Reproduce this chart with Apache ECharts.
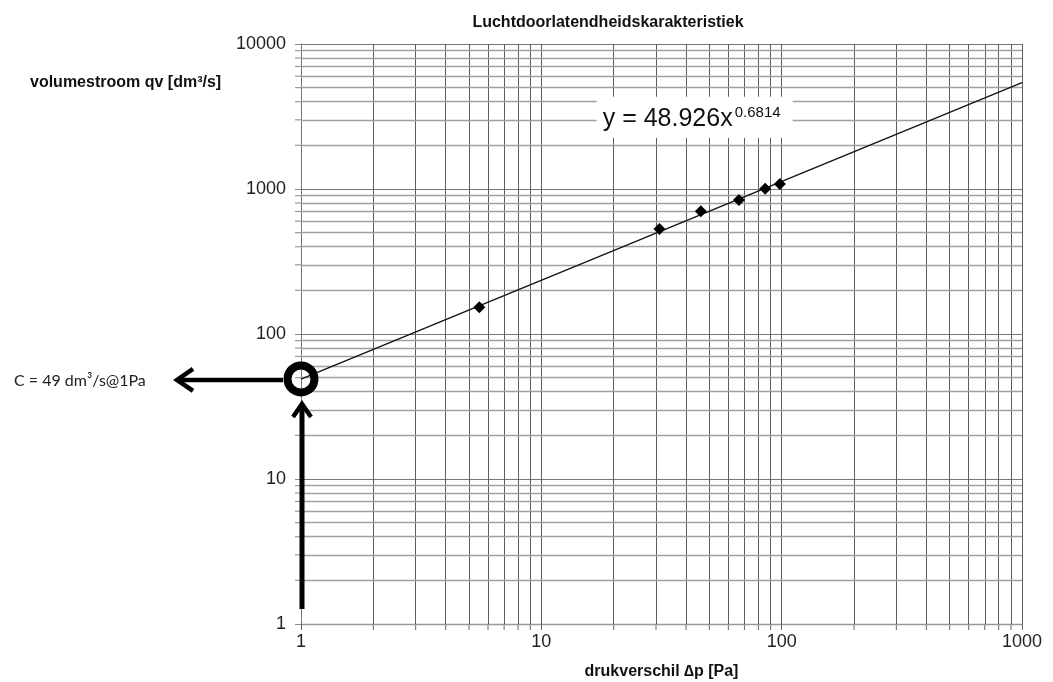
<!DOCTYPE html>
<html>
<head>
<meta charset="utf-8">
<script src="https://cdn.jsdelivr.net/npm/echarts@6/dist/echarts.min.js"></script>
<style>
html,body{margin:0;padding:0;background:#fff;}
#chart{width:1053px;height:682px;}
</style>
</head>
<body>
<div id="chart"></div>
<script>
// Data
const pressure = [5.52, 31.0, 46.1, 66.4, 85.4, 98.3];
const flow = [153, 530, 701, 840, 1005, 1083];
// Power-law trend line endpoints (straight line on log-log axes)
const trendX = [1, 1000];
const trendY = [48.9, 5418];
const xTicks = [1, 10, 100, 1000];
const yTicks = [1, 10, 100, 1000, 10000];
const cPoint = [1, 49];

const FONT = '"Liberation Sans", Arial, sans-serif';

// Minor grid values (2..9 within each decade)
function minors(ticks) {
  const out = [];
  for (let i = 0; i < ticks.length - 1; i++) {
    for (let k = 2; k <= 9; k++) out.push(ticks[i] * k);
  }
  return out;
}
const xMinor = minors(xTicks);
const yMinor = minors(yTicks);

const chart = echarts.init(document.getElementById('chart'));

const gridLines = [];
xMinor.forEach(v => gridLines.push({xAxis: v, lineStyle: {color: '#5e5e5e', width: 1, type: 'solid'}}));
yMinor.forEach(v => gridLines.push({yAxis: v, lineStyle: {color: '#a0a0a0', width: 1.3, type: 'solid'}}));

chart.setOption({
  animation: false,
  backgroundColor: '#fff',
  title: {
    text: 'Luchtdoorlatendheidskarakteristiek',
    left: 603, top: 10, textAlign: 'center',
    textStyle: {fontFamily: FONT, fontSize: 16, fontWeight: 'bold', color: '#111'}
  },
  grid: {left: 301, right: 31, top: 44, bottom: 58, containLabel: false, outerBoundsMode: 'none'},
  xAxis: {
    type: 'log', logBase: 10, min: 1, max: 1000,
    name: 'drukverschil \u2206p [Pa]', nameLocation: 'middle', nameGap: 40,
    nameTextStyle: {fontFamily: FONT, fontSize: 16, fontWeight: 'bold', color: '#111'},
    axisLine: {show: true, lineStyle: {color: '#999', width: 1.3}},
    axisTick: {show: true, inside: false, length: 6, lineStyle: {color: '#666'}},
    axisLabel: {fontFamily: FONT, fontSize: 18, color: '#222', margin: 9,
      formatter: v => String(Math.round(v))},
    splitLine: {show: true, lineStyle: {color: '#5e5e5e', width: 1}},
    minorTick: {show: false}, minorSplitLine: {show: false}
  },
  yAxis: {
    type: 'log', logBase: 10, min: 1, max: 10000,
    axisLine: {show: true, lineStyle: {color: '#777', width: 1}},
    axisTick: {show: true, inside: false, length: 6, lineStyle: {color: '#888'}},
    axisLabel: {fontFamily: FONT, fontSize: 18, color: '#222', margin: 15,
      formatter: v => String(Math.round(v))},
    splitLine: {show: true, lineStyle: {color: '#777', width: 1.2}},
    minorTick: {show: false}, minorSplitLine: {show: false}
  },
  series: [
    {
      type: 'line', name: 'grid', data: [],
      markLine: {silent: true, symbol: 'none', label: {show: false}, animation: false, data: gridLines}
    },
    {
      type: 'line', name: 'trend', showSymbol: false, symbol: 'none',
      data: trendX.map((x, i) => [x, trendY[i]]),
      lineStyle: {color: '#111', width: 1.3}, z: 5
    },
    {
      type: 'scatter', name: 'meting', symbol: 'diamond', symbolSize: 12,
      data: pressure.map((x, i) => [x, flow[i]]),
      itemStyle: {color: '#000', opacity: 1}, z: 6
    },
    {
      type: 'scatter', name: 'C', symbol: 'circle', symbolSize: 27, clip: false,
      data: [cPoint],
      itemStyle: {color: 'rgba(0,0,0,0)', borderColor: '#000', borderWidth: 8, opacity: 1}, z: 7
    }
  ]
});

// annotations anchored to data coordinates
const c = chart.convertToPixel({gridIndex: 0}, cPoint);
const eq = chart.convertToPixel({gridIndex: 0}, [18, 3000]);
const AW = 4.5;
const graphics = [
  {
    type: 'text', left: 30, top: 75,
    style: {text: 'volumestroom qv [dm\u00b3/s]', font: 'bold 16px ' + FONT, fill: '#111'}
  },
  // equation box
  {type: 'rect', shape: {x: eq[0] - 6, y: eq[1] - 23, width: 196, height: 41},
    style: {fill: '#fff'}, z: 9},
  {
    type: 'text', x: eq[0], y: eq[1] - 1,
    style: {text: 'y = 48.926x', font: '25px ' + FONT, fill: '#111', verticalAlign: 'middle'}, z: 10
  },
  {
    type: 'text', x: eq[0] + 132, y: eq[1] - 7,
    style: {text: '0.6814', font: '15px ' + FONT, fill: '#111', verticalAlign: 'middle'}, z: 10
  },
  // horizontal arrow pointing to label
  {type: 'line', shape: {x1: c[0] - 18, y1: c[1] + 1, x2: c[0] - 124, y2: c[1] + 1},
    style: {stroke: '#000', lineWidth: AW}, z: 10},
  {type: 'polyline', shape: {points: [[c[0] - 108, c[1] - 10], [c[0] - 124, c[1] + 1], [c[0] - 108, c[1] + 12]]},
    style: {stroke: '#000', lineWidth: AW, fill: null}, z: 10},
  // vertical arrow pointing up to C
  {type: 'line', shape: {x1: c[0] + 1, y1: c[1] + 230, x2: c[0] + 1, y2: c[1] + 26},
    style: {stroke: '#000', lineWidth: AW + 0.5}, z: 10},
  {type: 'polyline', shape: {points: [[c[0] - 8, c[1] + 38], [c[0] + 1, c[1] + 25], [c[0] + 10, c[1] + 38]]},
    style: {stroke: '#000', lineWidth: AW, fill: null}, z: 10},
  {
    type: 'text', x: 14, y: c[1] + 2,
    style: {text: 'C = 49 dm\u00b3/s@1Pa', font: '16px Lato, "Open Sans", sans-serif', fill: '#222', verticalAlign: 'middle'}
  }
];
// small outward tick marks at minor grid values
const origin = chart.convertToPixel({gridIndex: 0}, [1, 1]);
yMinor.forEach(v => {
  const p = chart.convertToPixel({gridIndex: 0}, [1, v]);
  graphics.push({type: 'line', shape: {x1: origin[0] - 6, y1: p[1], x2: origin[0], y2: p[1]},
    style: {stroke: '#999', lineWidth: 1.2}, silent: true});
});
xMinor.forEach(v => {
  const p = chart.convertToPixel({gridIndex: 0}, [v, 1]);
  graphics.push({type: 'line', shape: {x1: p[0], y1: origin[1], x2: p[0], y2: origin[1] + 6},
    style: {stroke: '#666', lineWidth: 1}, silent: true});
});
chart.setOption({graphic: graphics});
</script>
</body>
</html>
